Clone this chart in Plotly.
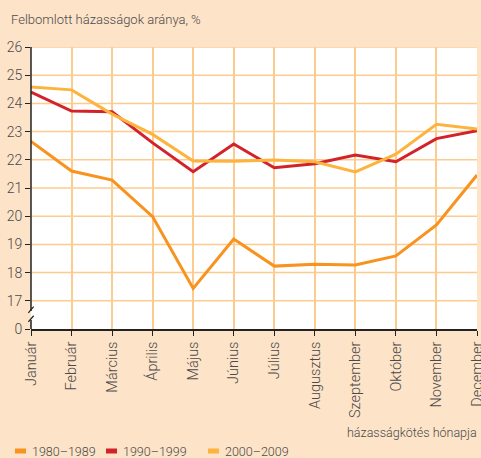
import plotly.graph_objects as go

months = ["Január", "Február", "Március", "Április", "Május", "Június",
          "Július", "Augusztus", "Szeptember", "Október", "November", "December"]
s1980 = [22.65, 21.6, 21.28, 19.98, 17.44, 19.19, 18.23, 18.3, 18.27, 18.59, 19.69, 21.46]
s1990 = [24.4, 23.73, 23.7, 22.6, 21.58, 22.56, 21.72, 21.86, 22.17, 21.93, 22.75, 23.03]
s2000 = [24.58, 24.48, 23.62, 22.9, 21.96, 21.95, 21.99, 21.93, 21.57, 22.2, 23.26, 23.09]
series_names = ["1980–1989", "1990–1999", "2000–2009"]
colors = ["#F7931E", "#D2232A", "#FDB43E"]
ytick_vals = [16, 17, 18, 19, 20, 21, 22, 23, 24, 25, 26]
ytick_text = ["0", "17", "18", "19", "20", "21", "22", "23", "24", "25", "26"]

FONT = "Roboto, sans-serif"
WEIGHT = 300
TXT = "#4a4a4a"
BG = "#FDE3C8"
GRID = "#FDCB8E"

fig = go.Figure()
for name, vals, c in zip(series_names, [s1980, s1990, s2000], colors):
    fig.add_trace(go.Scatter(x=months, y=vals, mode="lines", name=name,
                             line=dict(color=c, width=3), showlegend=False))

shapes = []
for v in ytick_vals[1:]:
    shapes.append(dict(type="line", xref="paper", yref="y", x0=0, x1=1, y0=v, y1=v,
                       line=dict(color=GRID, width=1.5), layer="below"))
shapes.append(dict(type="line", xref="paper", yref="y", x0=0, x1=0, y0=26, y1=16.64,
                   line=dict(color="#222", width=1.5)))
shapes.append(dict(type="line", xref="paper", yref="y", x0=0, x1=0, y0=16.32, y1=16,
                   line=dict(color="#222", width=1.5)))
for yb in [16.68, 16.36]:
    shapes.append(dict(type="line", xref="paper", yref="y", x0=-0.006, x1=0.006,
                       y0=yb - 0.11, y1=yb + 0.11, line=dict(color="#222", width=1.2)))

leg_x = [15, 106, 208]
W, H = 481, 458
for lx, c in zip(leg_x, colors):
    shapes.append(dict(type="rect", xref="paper", yref="paper",
                       x0=(lx - 31) / 446, x1=(lx + 11 - 31) / 446,
                       y0=-(451 - 329 + 2.5) / 282, y1=-(451 - 329 - 2.5) / 282,
                       fillcolor=c, line=dict(width=0)))

annotations = [
    dict(text="Felbomlott házasságok aránya, %", xref="paper", yref="paper",
         x=(9 - 31) / 446, y=(329 - 19) / 282, xanchor="left", yanchor="middle",
         showarrow=False, font=dict(family=FONT, size=13, color=TXT, weight=WEIGHT)),
    dict(text="házasságkötés hónapja", xref="paper", yref="paper",
         x=(479 - 31) / 446, y=-(432 - 329) / 282, xanchor="right", yanchor="middle",
         showarrow=False, font=dict(family=FONT, size=12.5, color=TXT, weight=WEIGHT)),
]
for lx, name in zip(leg_x, series_names):
    annotations.append(dict(text=name, xref="paper", yref="paper",
                            x=(lx + 15 - 31) / 446, y=-(451 - 329) / 282,
                            xanchor="left", yanchor="middle", showarrow=False,
                            font=dict(family=FONT, size=12.5, color=TXT, weight=WEIGHT)))

fig.update_layout(
    width=W, height=H,
    margin=dict(l=31, r=4, t=47, b=129, autoexpand=False),
    paper_bgcolor=BG, plot_bgcolor="white",
    font=dict(family=FONT, size=14, color=TXT, weight=WEIGHT),
    shapes=shapes, annotations=annotations,
    xaxis=dict(type="category", range=[0, 11], showgrid=True, gridcolor=GRID, gridwidth=1.5,
               tickangle=-90, ticks="outside", ticklen=5, tickcolor="#222", tickwidth=1.2,
               showline=True, linecolor="#222", linewidth=1.5, zeroline=False, automargin=False,
               tickfont=dict(family=FONT, size=14.5, color=TXT, weight=WEIGHT)),
    yaxis=dict(range=[16, 26], tickvals=ytick_vals, ticktext=ytick_text, showgrid=False,
               ticks="outside", ticklen=5, tickcolor="#222", tickwidth=1.2,
               showline=False, zeroline=False, automargin=False,
               tickfont=dict(family=FONT, size=14, color=TXT, weight=WEIGHT)),
)

fig.write_html("out.html", config={"displayModeBar": False},
               post_script="document.body.style.margin='0';document.body.style.overflow='hidden';")
